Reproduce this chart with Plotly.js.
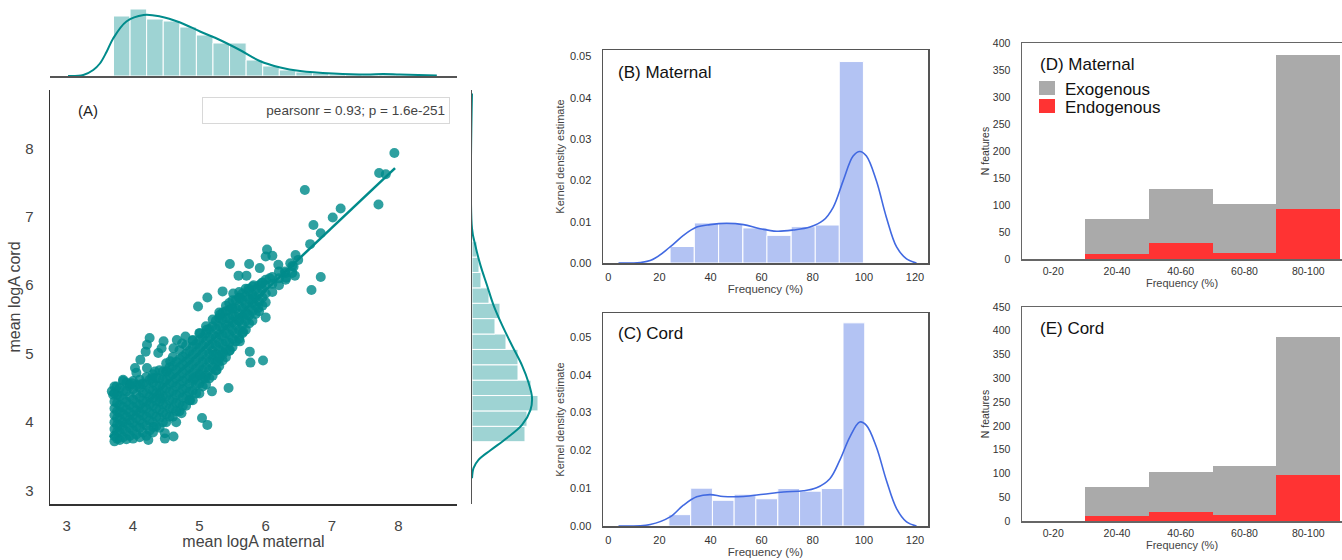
<!DOCTYPE html>
<html>
<head>
<meta charset="utf-8">
<script src="https://cdn.plot.ly/plotly-3.0.1.min.js"></script>
<style>html,body{margin:0;padding:0;background:#fff;}#chart{width:1342px;height:560px;}</style>
</head>
<body>
<div id="chart"></div>
<script>
// ---------- Panel A: scatter (mean logA maternal vs cord) ----------
// dense core of the cloud
const coreX = [
3.72,3.72,3.72,3.72,3.72,3.72,3.72,3.72,
3.80,3.80,3.80,3.80,3.80,3.80,3.80,3.80,
3.90,3.90,3.90,3.90,3.90,3.90,3.90,3.90,
4.00,4.00,4.00,4.00,4.00,4.00,4.00,4.00,
4.10,4.10,4.10,4.10,4.10,4.10,4.10,4.10,
4.20,4.20,4.20,4.20,4.20,4.20,4.20,4.20,
4.30,4.30,4.30,4.30,4.30,4.30,4.30,4.30,
4.40,4.40,4.40,4.40,4.40,4.40,4.40,4.40,
4.50,4.50,4.50,4.50,4.50,4.50,4.50,4.50,
4.60,4.60,4.60,4.60,4.60,4.60,4.60,4.60,
4.70,4.70,4.70,4.70,4.70,4.70,4.70,4.70,
4.80,4.80,4.80,4.80,4.80,4.80,4.80,4.80,
4.90,4.90,4.90,4.90,4.90,4.90,4.90,4.90,
5.00,5.00,5.00,5.00,5.00,5.00,5.00,5.00,
5.10,5.10,5.10,5.10,5.10,5.10,5.10,5.10,
5.20,5.20,5.20,5.20,5.20,5.20,5.20,5.20,
5.30,5.30,5.30,5.30,5.30,5.30,5.30,5.30,
5.40,5.40,5.40,5.40,5.40,5.40,5.40,5.40,
5.50,5.50,5.50,5.50,5.50,5.50,5.50,
5.60,5.60,5.60,5.60,5.60,5.60,5.60,
5.70,5.70,5.70,5.70,5.70,5.70,
5.80,5.80,5.80,5.80,5.80,
5.90,5.90,5.90,5.90,
6.00,6.00,6.00,6.00,
6.10,6.10,6.10,
6.20,6.20,6.20,
6.30,6.30,
6.40,6.40,
3.68,3.72,3.85,4.05,3.95,
3.76,3.76,3.76,3.76,3.76,3.76,3.76,
3.85,3.85,3.85,3.85,3.85,3.85,3.85,
3.95,3.95,3.95,3.95,3.95,3.95,3.95,
4.05,4.05,4.05,4.05,4.05,4.05,4.05,
4.15,4.15,4.15,4.15,4.15,4.15,4.15,
4.25,4.25,4.25,4.25,4.25,4.25,4.25,
4.35,4.35,4.35,4.35,4.35,4.35,4.35,
4.45,4.45,4.45,4.45,4.45,4.45,4.45,
4.55,4.55,4.55,4.55,4.55,4.55,4.55,
4.65,4.65,4.65,4.65,4.65,4.65,4.65,
4.75,4.75,4.75,4.75,4.75,4.75,4.75,
4.85,4.85,4.85,4.85,4.85,4.85,4.85,
4.95,4.95,4.95,4.95,4.95,4.95,4.95,
5.05,5.05,5.05,5.05,5.05,5.05,5.05,
5.15,5.15,5.15,5.15,5.15,5.15,5.15,
5.25,5.25,5.25,5.25,5.25,5.25,5.25,
5.35,5.35,5.35,5.35,5.35,5.35,5.35,
5.45,5.45,5.45,5.45,5.45,5.45,5.45,
5.55,5.55,5.55,5.55,5.55,5.55,
5.65,5.65,5.65,5.65,5.65,5.65,
5.75,5.75,5.75,5.75,5.75,
5.85,5.85,5.85,5.85,
5.95,5.95,5.95,5.95
];
const coreY = [
3.72,3.80,3.90,4.00,4.10,4.20,4.30,4.42,
3.74,3.85,3.95,4.05,4.15,4.25,4.38,4.50,
3.75,3.86,3.98,4.08,4.18,4.30,4.45,4.58,
3.76,3.88,3.99,4.10,4.22,4.33,4.48,4.60,
3.78,3.92,4.03,4.14,4.25,4.36,4.50,4.62,
3.80,3.95,4.08,4.20,4.30,4.42,4.55,4.66,
3.85,4.00,4.12,4.24,4.35,4.46,4.58,4.70,
3.92,4.06,4.18,4.30,4.42,4.53,4.64,4.76,
4.00,4.12,4.25,4.38,4.50,4.62,4.74,4.86,
4.08,4.20,4.33,4.46,4.58,4.70,4.82,4.95,
4.16,4.28,4.42,4.55,4.67,4.80,4.92,5.05,
4.24,4.38,4.50,4.63,4.76,4.88,5.00,5.12,
4.32,4.46,4.60,4.72,4.85,4.98,5.10,5.20,
4.42,4.56,4.70,4.82,4.95,5.08,5.20,5.30,
4.55,4.68,4.80,4.92,5.05,5.18,5.30,5.40,
4.68,4.80,4.92,5.04,5.15,5.28,5.40,5.50,
4.82,4.94,5.05,5.16,5.28,5.40,5.52,5.60,
4.95,5.06,5.18,5.30,5.42,5.52,5.62,5.70,
5.10,5.22,5.34,5.46,5.56,5.66,5.78,
5.22,5.35,5.48,5.58,5.70,5.82,5.90,
5.35,5.48,5.60,5.72,5.84,5.95,
5.48,5.62,5.74,5.86,5.98,
5.62,5.76,5.88,6.00,
5.75,5.88,6.00,6.08,
5.90,6.02,6.12,
6.00,6.10,6.20,
6.08,6.18,
6.18,6.28,
4.45,4.52,4.60,4.72,4.55,
3.76,3.86,3.96,4.06,4.16,4.28,4.40,
3.78,3.90,4.00,4.12,4.22,4.34,4.46,
3.80,3.92,4.03,4.14,4.25,4.38,4.52,
3.82,3.94,4.06,4.17,4.28,4.41,4.54,
3.85,3.98,4.10,4.20,4.31,4.43,4.56,
3.88,4.02,4.14,4.26,4.37,4.49,4.62,
3.94,4.08,4.20,4.31,4.42,4.53,4.65,
4.00,4.14,4.26,4.38,4.50,4.62,4.74,
4.08,4.20,4.32,4.44,4.56,4.68,4.80,
4.16,4.28,4.40,4.52,4.64,4.76,4.88,
4.24,4.36,4.48,4.60,4.72,4.84,4.96,
4.32,4.44,4.56,4.68,4.80,4.92,5.04,
4.42,4.54,4.66,4.78,4.90,5.02,5.14,
4.52,4.64,4.76,4.88,5.00,5.12,5.24,
4.64,4.76,4.88,5.00,5.12,5.24,5.36,
4.76,4.88,5.00,5.12,5.24,5.36,5.48,
4.90,5.02,5.14,5.26,5.38,5.50,5.60,
5.04,5.16,5.28,5.40,5.52,5.64,5.74,
5.18,5.30,5.42,5.54,5.66,5.78,
5.30,5.42,5.54,5.66,5.78,5.88,
5.44,5.56,5.68,5.80,5.92,
5.58,5.70,5.82,5.94,
5.70,5.82,5.94,6.04
];
// scattered points around the core
const spreadX = [
7.94,7.71,7.81,6.59,7.70,7.13,7.01,6.72,6.83,6.67,6.02,6.00,6.10,6.45,6.49,6.37,
5.46,5.75,5.91,6.19,6.42,6.29,6.31,6.44,6.83,6.69,5.59,5.71,6.06,5.94,5.82,5.74,
5.35,5.12,4.98,5.51,5.61,5.81,5.89,6.00,5.71,5.31,5.49,5.59,5.66,5.61,5.76,5.96,
5.77,5.46,5.35,5.21,5.29,5.26,5.09,5.44,5.19,4.86,4.73,4.65,5.04,5.12,4.61,4.48,
4.48,4.23,4.31,4.25,4.21,4.19,4.11,4.03,4.21,4.46,4.43,4.38,4.66,4.79,4.90,4.61,
4.74,5.01,5.11,3.85,3.75,3.70,3.98,4.11,4.33,4.56,4.51,4.29,4.91,5.01,4.41
];
const spreadY = [
7.93,7.64,7.62,7.39,7.18,7.12,6.99,6.88,6.76,6.60,6.52,6.42,6.43,6.44,6.37,6.32,
6.31,6.31,6.25,6.30,6.27,6.20,6.11,6.14,6.12,5.93,6.14,6.14,6.10,6.03,6.00,5.95,
5.91,5.82,5.69,5.88,5.81,5.81,5.67,5.53,5.57,5.57,5.66,5.49,5.32,5.18,5.03,4.90,
4.87,5.05,4.99,4.98,4.88,4.76,4.64,4.50,4.45,4.32,4.13,4.00,4.06,3.96,3.79,3.84,
3.76,3.74,3.93,5.23,5.13,5.03,4.91,4.79,4.79,5.18,5.08,5.01,5.20,5.25,5.19,5.08,
5.15,5.30,5.35,4.62,4.52,4.40,4.57,4.55,4.74,4.89,4.74,4.64,4.64,4.69,4.35
];
const regX = [3.65, 7.95];
const regY = [3.78, 7.71];
const pearsonText = 'pearsonr = 0.93; p = 1.6e-251';

// top marginal (maternal)
const topBinCenters = [3.83,4.08,4.33,4.58,4.83,5.08,5.33,5.58,5.83,6.08,6.33,6.58,6.83,7.08,7.33,7.58,7.83,8.08];
const topBinCounts  = [120,134,114,110,98,82,66,66,32,20,12,8,6,4,3,2,3,1.4];
const topKdeX = [3.02,3.25,3.40,3.50,3.60,3.70,3.90,4.16,4.41,4.71,5.01,5.31,5.61,5.91,6.22,6.52,7.02,7.52,7.77,8.02,8.58];
const topKdeY = [0,2,12,25,48,75,109,122,119,107,89,72,52,30,17,10,5,3,4,3,1];

// right marginal (cord)
const rightBinCenters = [3.827,4.052,4.277,4.501,4.726,4.951,5.175,5.400,5.625,5.849,6.074,6.299,6.523];
const rightBinCounts  = [106,110,132,118,92,92,68,46,56,34,18,14,10];
const rightKdeY = [8.80,6.83,6.58,6.29,6.00,5.71,5.42,5.12,4.83,4.58,4.36,4.18,3.96,3.77,3.59,3.45,3.33,3.18];
const rightKdeX = [0,0,6.7,17,30,43,60,80,100,113,120,117,100,70,37,13,3,0];

// ---------- Panels B, C: frequency distributions ----------
const histBCenters = [28.9,38.4,47.9,57.4,66.8,76.3,85.7,95.1];
const histBValues  = [0.0040,0.0097,0.0095,0.0085,0.0067,0.0088,0.0092,0.0488];
const kdeBX = [4.0,16.4,24.2,29.4,34.6,39.8,46.3,52.9,59.4,65.9,72.4,78.9,84.1,88.0,91.9,95.8,98.4,101.0,104.9,108.8,112.8,116.7,120.6];
const kdeBY = [0,0.0006,0.0039,0.0067,0.0087,0.0093,0.0096,0.0093,0.0083,0.0077,0.0080,0.0087,0.0103,0.0135,0.0199,0.0259,0.0270,0.0259,0.0199,0.0111,0.0039,0.0010,0];

const histCCenters = [27.96,36.5,45.0,53.5,62.0,70.6,79.1,87.6,96.1];
const histCValues  = [0.0030,0.0100,0.0068,0.0084,0.0072,0.0099,0.0092,0.0099,0.0537];
const kdeCX = [4.0,16.4,24.2,29.4,34.6,39.8,45.0,52.9,60.7,68.5,76.3,81.5,86.7,90.6,94.5,98.4,101.0,104.9,108.8,112.8,116.7,120.6];
const kdeCY = [0,0.0004,0.0024,0.0055,0.0077,0.0083,0.0078,0.0078,0.0084,0.0090,0.0093,0.0101,0.0125,0.0174,0.0235,0.0275,0.0266,0.0209,0.0121,0.0046,0.0011,0];

// ---------- Panels D, E: N features by frequency ----------
const freqBins = ['0-20','20-40','40-60','60-80','80-100'];
const exoMaternal  = [0,75,130,101,377];
const endoMaternal = [0,9,29,12,92];
const exoCord      = [0,72,103,116,387];
const endoCord     = [0,10,18,12,96];

// ---------- styling ----------
const TEAL = 'rgb(0,139,139)';
const TEAL_LIGHT = 'rgba(0,139,139,0.38)';
const BLUE = 'rgb(65,105,225)';
const BLUE_LIGHT = 'rgba(65,105,225,0.4)';
const GRAY = 'rgb(170,170,170)';
const RED = 'rgb(255,51,51)';
const FONT = 'Liberation Sans, Arial, sans-serif';

const traces = [
  // A scatter
  {type:'scatter', mode:'markers', x:coreX.concat(spreadX), y:coreY.concat(spreadY), xaxis:'x', yaxis:'y',
   marker:{size:10, color:'rgba(0,139,139,0.82)', line:{width:0}}, hoverinfo:'skip', showlegend:false},
  {type:'scatter', mode:'lines', x:regX, y:regY, xaxis:'x', yaxis:'y',
   line:{color:TEAL, width:2.5}, showlegend:false},
  // top marginal
  {type:'bar', x:topBinCenters, y:topBinCounts, width:0.2503, xaxis:'x2', yaxis:'y2',
   marker:{color:TEAL_LIGHT, line:{color:'white', width:1}}, showlegend:false},
  {type:'scatter', mode:'lines', x:topKdeX, y:topKdeY, xaxis:'x2', yaxis:'y2',
   line:{color:TEAL, width:2, shape:'spline', smoothing:1}, showlegend:false},
  // right marginal
  {type:'bar', orientation:'h', y:rightBinCenters, x:rightBinCounts, width:0.2247, xaxis:'x3', yaxis:'y3',
   marker:{color:TEAL_LIGHT, line:{color:'white', width:1}}, showlegend:false},
  {type:'scatter', mode:'lines', x:rightKdeX, y:rightKdeY, xaxis:'x3', yaxis:'y3',
   line:{color:TEAL, width:2, shape:'spline', smoothing:1}, showlegend:false},
  // B
  {type:'bar', x:histBCenters, y:histBValues, width:9.46, xaxis:'x4', yaxis:'y4',
   marker:{color:BLUE_LIGHT, line:{color:'white', width:1}}, showlegend:false},
  {type:'scatter', mode:'lines', x:kdeBX, y:kdeBY, xaxis:'x4', yaxis:'y4',
   line:{color:BLUE, width:1.6, shape:'spline', smoothing:1}, showlegend:false},
  // C
  {type:'bar', x:histCCenters, y:histCValues, width:8.52, xaxis:'x5', yaxis:'y5',
   marker:{color:BLUE_LIGHT, line:{color:'white', width:1}}, showlegend:false},
  {type:'scatter', mode:'lines', x:kdeCX, y:kdeCY, xaxis:'x5', yaxis:'y5',
   line:{color:BLUE, width:1.6, shape:'spline', smoothing:1}, showlegend:false},
  // D
  {type:'bar', name:'Exogenous', x:freqBins, y:exoMaternal, width:1, xaxis:'x6', yaxis:'y6',
   marker:{color:GRAY, line:{width:0}}, showlegend:false},
  {type:'bar', name:'Endogenous', x:freqBins, y:endoMaternal, width:1, xaxis:'x6', yaxis:'y6',
   marker:{color:RED, line:{width:0}}, showlegend:false},
  // E
  {type:'bar', name:'Exogenous', x:freqBins, y:exoCord, width:1, xaxis:'x7', yaxis:'y7',
   marker:{color:GRAY, line:{width:0}}, showlegend:false},
  {type:'bar', name:'Endogenous', x:freqBins, y:endoCord, width:1, xaxis:'x7', yaxis:'y7',
   marker:{color:RED, line:{width:0}}, showlegend:false}
];

const W = 1342, H = 560;
const px = v => v / W;
const py = v => 1 - v / H;

const smallTick = {family:FONT, size:11, color:'#333'};
const tinyTick = {family:FONT, size:10.5, color:'#333'};

const frameAxis = (extra) => Object.assign({
  showline:true, linecolor:'#555', linewidth:1.5, mirror:true,
  showgrid:false, zeroline:false, ticks:'', tickfont:smallTick, ticklabelstandoff:3
}, extra);

const layout = {
  width:W, height:H,
  margin:{l:0, r:0, t:0, b:0},
  paper_bgcolor:'white', plot_bgcolor:'rgba(0,0,0,0)',
  barmode:'overlay', bargap:0,
  font:{family:FONT, color:'#222'},
  showlegend:false,
  // A
  xaxis:{domain:[px(50), px(457)], range:[2.748, 8.884], anchor:'y',
    showline:true, linecolor:'#333', linewidth:1.5, showgrid:false, zeroline:false, ticks:'',
    tickvals:[3,4,5,6,7,8], tickfont:{family:FONT, size:15, color:'#444'}, ticklabelstandoff:7,
    title:{text:'mean logA maternal', font:{family:FONT, size:16, color:'#444'}, standoff:1}},
  yaxis:{domain:[py(504), py(90)], range:[2.805, 8.851], anchor:'x',
    showline:true, linecolor:'#333', linewidth:1.5, showgrid:false, zeroline:false, ticks:'',
    tickvals:[3,4,5,6,7,8], tickfont:{family:FONT, size:15, color:'#444'}, ticklabelstandoff:12,
    title:{text:'mean logA cord', font:{family:FONT, size:16, color:'#444'}, standoff:0}},
  xaxis2:{domain:[px(50), px(457)], range:[2.748, 8.884], anchor:'y2',
    showline:true, linecolor:'#555', linewidth:1.5, showgrid:false, zeroline:false, ticks:'', showticklabels:false},
  yaxis2:{domain:[py(76), py(5)], range:[0,142], anchor:'x2', visible:false},
  xaxis3:{domain:[px(472), px(548)], range:[0,152], anchor:'y3', visible:false},
  yaxis3:{domain:[py(504), py(90)], range:[2.805, 8.851], anchor:'x3',
    showline:true, linecolor:'#555', linewidth:1.5, showgrid:false, zeroline:false, ticks:'', showticklabels:false},
  // B
  xaxis4:frameAxis({domain:[px(603), px(928)], range:[-2.07,125.1], anchor:'y4', tickvals:[0,20,40,60,80,100,120],
    title:{text:'Frequency (%)', font:{family:FONT, size:11.5, color:'#444'}, standoff:0}}),
  yaxis4:frameAxis({domain:[py(263), py(50)], range:[0,0.0516], anchor:'x4', tickvals:[0,0.01,0.02,0.03,0.04,0.05], tickformat:'.2f',
    ticklabelstandoff:8, title:{text:'Kernel density estimate', font:{family:FONT, size:11, color:'#444'}, standoff:3}}),
  // C
  xaxis5:frameAxis({domain:[px(603), px(928)], range:[-2.07,125.1], anchor:'y5', tickvals:[0,20,40,60,80,100,120],
    title:{text:'Frequency (%)', font:{family:FONT, size:11.5, color:'#444'}, standoff:0}}),
  yaxis5:frameAxis({domain:[py(526), py(313)], range:[0,0.0563], anchor:'x5', tickvals:[0,0.01,0.02,0.03,0.04,0.05], tickformat:'.2f',
    ticklabelstandoff:8, title:{text:'Kernel density estimate', font:{family:FONT, size:11, color:'#444'}, standoff:3}}),
  // D
  xaxis6:{domain:[px(1022), 1], range:[-0.49, 4.53], anchor:'y6', type:'category',
    showline:true, linecolor:'#666', linewidth:1.5, mirror:true, showgrid:false, zeroline:false, ticks:'',
    tickfont:tinyTick, ticklabelstandoff:2,
    title:{text:'Frequency (%)', font:{family:FONT, size:11, color:'#444'}, standoff:0}},
  yaxis6:{domain:[py(259), py(43)], range:[0,400], anchor:'x6', dtick:50,
    showline:true, linecolor:'#666', linewidth:1.5, showgrid:false, zeroline:false, ticks:'',
    tickfont:tinyTick, ticklabelstandoff:8,
    title:{text:'N features', font:{family:FONT, size:10.5, color:'#333'}, standoff:1}},
  // E
  xaxis7:{domain:[px(1022), 1], range:[-0.49, 4.53], anchor:'y7', type:'category',
    showline:true, linecolor:'#666', linewidth:1.5, mirror:true, showgrid:false, zeroline:false, ticks:'',
    tickfont:tinyTick, ticklabelstandoff:2,
    title:{text:'Frequency (%)', font:{family:FONT, size:11, color:'#444'}, standoff:0}},
  yaxis7:{domain:[py(521), py(307)], range:[0,450], anchor:'x7', dtick:50,
    showline:true, linecolor:'#666', linewidth:1.5, showgrid:false, zeroline:false, ticks:'',
    tickfont:tinyTick, ticklabelstandoff:8,
    title:{text:'N features', font:{family:FONT, size:10.5, color:'#333'}, standoff:1}},
  shapes:[
    {type:'rect', xref:'paper', yref:'paper', x0:px(1039), x1:px(1055), y0:py(95), y1:py(81), fillcolor:GRAY, line:{width:0}},
    {type:'rect', xref:'paper', yref:'paper', x0:px(1039), x1:px(1055), y0:py(113), y1:py(99), fillcolor:RED, line:{width:0}}
  ],
  annotations:[
    {text:'(A)', xref:'paper', yref:'paper', x:px(76), y:py(111), xanchor:'left', yanchor:'middle', showarrow:false,
     font:{family:FONT, size:15, color:'#222'}},
    {text:pearsonText, xref:'paper', yref:'paper', x:px(450), y:py(110.5), xanchor:'right', yanchor:'middle', showarrow:false,
     width:238, height:17, align:'right', borderpad:4, bordercolor:'#d8d8d8', borderwidth:1, bgcolor:'white',
     font:{family:FONT, size:13.5, color:'#444'}},
    {text:'(B) Maternal', xref:'paper', yref:'paper', x:px(616), y:py(73), xanchor:'left', yanchor:'middle', showarrow:false,
     font:{family:FONT, size:17, color:'#111'}},
    {text:'(C) Cord', xref:'paper', yref:'paper', x:px(616), y:py(333), xanchor:'left', yanchor:'middle', showarrow:false,
     font:{family:FONT, size:17, color:'#111'}},
    {text:'(D) Maternal', xref:'paper', yref:'paper', x:px(1038), y:py(64), xanchor:'left', yanchor:'middle', showarrow:false,
     font:{family:FONT, size:17, color:'#111'}},
    {text:'(E) Cord', xref:'paper', yref:'paper', x:px(1038), y:py(328), xanchor:'left', yanchor:'middle', showarrow:false,
     font:{family:FONT, size:17, color:'#111'}},
    {text:'Exogenous', xref:'paper', yref:'paper', x:px(1063), y:py(89), xanchor:'left', yanchor:'middle', showarrow:false,
     font:{family:FONT, size:17, color:'#111'}},
    {text:'Endogenous', xref:'paper', yref:'paper', x:px(1063), y:py(107), xanchor:'left', yanchor:'middle', showarrow:false,
     font:{family:FONT, size:17, color:'#111'}}
  ]
};

Plotly.newPlot('chart', traces, layout, {staticPlot:true, displayModeBar:false});
</script>
</body>
</html>
